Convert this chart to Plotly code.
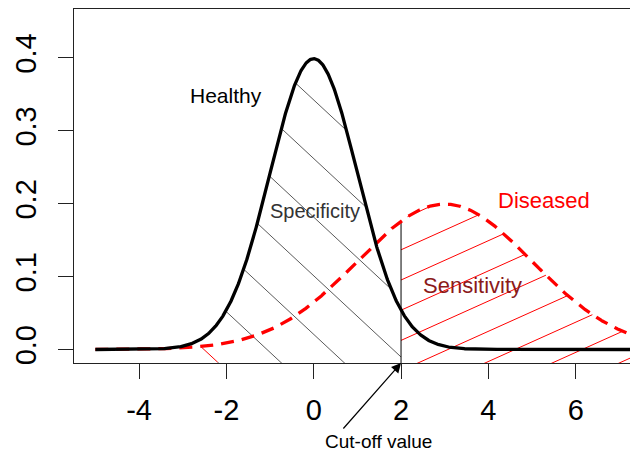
import numpy as np
import plotly.graph_objects as go

# Two score distributions and the decision threshold
healthy_mean, healthy_sd = 0.0, 1.0
diseased_mean, diseased_sd = 3.0, 2.0
cutoff = 2.0
x_start, x_end = -5.0, 8.0
spec_from = -2.2          # left edge of the specificity shading
tail_from = -3.0          # small shaded strip of the diseased left tail

x_ticks = [-4, -2, 0, 2, 4, 6]
y_ticks = [0.0, 0.1, 0.2, 0.3, 0.4]

label_text = ["Healthy", "Specificity", "Diseased", "Sensitivity"]
label_x = [-2.01, 0.02, 5.27, 3.64]
label_y = [0.349, 0.19, 0.205, 0.088]
label_color = ["#000000", "#333333", "#ff0000", "#8b1a1a"]
label_size = [21, 20, 22, 22]

# plotting frame (pixels) and axis ranges
W_FIG, H_FIG = 630, 456
M_L, M_R, M_T, M_B = 74, 0, 9, 93
PW, PH = W_FIG - M_L - M_R, H_FIG - M_T - M_B
X_RANGE = [-5.489, 7.243]
Y_RANGE = [-0.01852, 0.46708]


def dnorm(x, m, s):
    return np.exp(-0.5 * ((x - m) / s) ** 2) / (s * np.sqrt(2 * np.pi))


def to_px(x, y):
    px = M_L + (np.asarray(x) - X_RANGE[0]) / (X_RANGE[1] - X_RANGE[0]) * PW
    py = M_T + (Y_RANGE[1] - np.asarray(y)) / (Y_RANGE[1] - Y_RANGE[0]) * PH
    return px, py


def to_data(px, py):
    x = X_RANGE[0] + (np.asarray(px) - M_L) / PW * (X_RANGE[1] - X_RANGE[0])
    y = Y_RANGE[1] - (np.asarray(py) - M_T) / PH * (Y_RANGE[1] - Y_RANGE[0])
    return x, y


def hatch(poly_x, poly_y, slope, c0, dc):
    """Parallel shading lines y = slope*x + c0 + k*dc (screen pixels),
    clipped to a polygon given in data units. Returns data-space xs, ys."""
    px, py = to_px(poly_x, poly_y)
    px = np.append(px, px[0])
    py = np.append(py, py[0])
    vals = py - slope * px
    kmin = int(np.floor((vals.min() - c0) / dc)) - 1
    kmax = int(np.ceil((vals.max() - c0) / dc)) + 1
    xs, ys = [], []
    for k in range(kmin, kmax + 1):
        c = c0 + k * dc
        f = vals - c
        hits = []
        for i in range(len(px) - 1):
            f1, f2 = f[i], f[i + 1]
            if (f1 < 0) != (f2 < 0):
                t = f1 / (f1 - f2)
                hits.append(px[i] + t * (px[i + 1] - px[i]))
        hits.sort()
        for j in range(0, len(hits) - 1, 2):
            xa, xb = hits[j], hits[j + 1]
            dx, dy = to_data([xa, xb], [slope * xa + c, slope * xb + c])
            xs += list(dx) + [None]
            ys += list(dy) + [None]
    return xs, ys


def region(xs, ys, lo, hi, bottom):
    m = (xs >= lo) & (xs <= hi)
    px_ = np.concatenate([[lo], xs[m], [hi, hi, lo]])
    py_ = np.concatenate([[np.interp(lo, xs, ys)], ys[m], [np.interp(hi, xs, ys), bottom, bottom]])
    return px_, py_


x = np.linspace(x_start, x_end, 1300)
y_healthy = dnorm(x, healthy_mean, healthy_sd)
y_diseased = dnorm(x, diseased_mean, diseased_sd)

below = -0.06  # shaded regions run past the bottom of the frame
hx, hy = region(x, y_healthy, spec_from, cutoff, below)
dx_, dy_ = region(x, y_diseased, cutoff, x_end, below)
tx, ty = region(x, y_diseased, tail_from, spec_from, below)

x0_px, y0_px = to_px(0, 0)
BLACK_SLOPE, BLACK_C0, BLACK_DC = 0.93, -191.8, 58.6
RED_SLOPE, RED_DC = -0.45, 30.2
spec_x, spec_y = hatch(hx, hy, BLACK_SLOPE, BLACK_C0, BLACK_DC)
tail_x, tail_y = hatch(tx, ty, BLACK_SLOPE, BLACK_C0, BLACK_DC)
sens_x, sens_y = hatch(dx_, dy_, RED_SLOPE, y0_px - RED_SLOPE * x0_px, RED_DC)

fig = go.Figure()
fig.add_trace(go.Scatter(x=spec_x, y=spec_y, mode="lines",
                         line=dict(color="#5a5a5a", width=1), hoverinfo="skip"))
fig.add_trace(go.Scatter(x=tail_x, y=tail_y, mode="lines",
                         line=dict(color="#ff0000", width=1), hoverinfo="skip"))
fig.add_trace(go.Scatter(x=sens_x, y=sens_y, mode="lines",
                         line=dict(color="#ff0000", width=1), hoverinfo="skip"))
fig.add_trace(go.Scatter(x=[cutoff, cutoff],
                         y=[below, dnorm(cutoff, diseased_mean, diseased_sd)],
                         mode="lines", line=dict(color="#000000", width=1), hoverinfo="skip"))
fig.add_trace(go.Scatter(x=x, y=y_diseased, mode="lines",
                         line=dict(color="#ff0000", width=3.3, dash="13px,8px"), hoverinfo="skip"))
fig.add_trace(go.Scatter(x=x, y=y_healthy, mode="lines",
                         line=dict(color="#000000", width=3.3), hoverinfo="skip"))

for t, lx, ly, c, s in zip(label_text, label_x, label_y, label_color, label_size):
    fig.add_annotation(x=lx, y=ly, text=t, showarrow=False,
                       font=dict(family="Liberation Sans, Arial", size=s, color=c),
                       xanchor="center", yanchor="middle")

# cut-off pointer and its caption below the axis
fig.add_annotation(x=cutoff, y=0, yref="paper", text="", showarrow=True,
                   ax=-59, ay=67, arrowhead=2, arrowsize=1.6, arrowwidth=1.2,
                   arrowcolor="#000000", standoff=0)
fig.add_annotation(x=1.48, y=-0.222, yref="paper", text="Cut-off value", showarrow=False,
                   font=dict(family="Liberation Sans, Arial", size=19, color="#000000"),
                   xanchor="center", yanchor="middle")

axis_font = dict(family="Liberation Sans, Arial", size=29, color="#000000")
fig.update_xaxes(range=X_RANGE, tickvals=x_ticks, ticktext=[str(v) for v in x_ticks],
                 showline=True, mirror=True, linecolor="#222222", linewidth=1.3,
                 ticks="outside", ticklen=15, tickwidth=1.3, tickcolor="#222222",
                 showgrid=False, zeroline=False, tickfont=axis_font, ticklabelstandoff=6)
fig.update_yaxes(range=Y_RANGE, tickvals=y_ticks, ticktext=[f"{v:.1f}" for v in y_ticks],
                 showline=True, mirror=False, linecolor="#222222", linewidth=1.3,
                 ticks="outside", ticklen=15, tickwidth=1.3, tickcolor="#222222",
                 showgrid=False, zeroline=False, tickfont=axis_font, tickangle=-90,
                 ticklabelstandoff=10)
fig.update_layout(width=W_FIG, height=H_FIG, showlegend=False,
                  margin=dict(l=M_L, r=M_R, t=M_T, b=M_B, pad=0),
                  plot_bgcolor="white", paper_bgcolor="white")
fig.write_html("out.html")
